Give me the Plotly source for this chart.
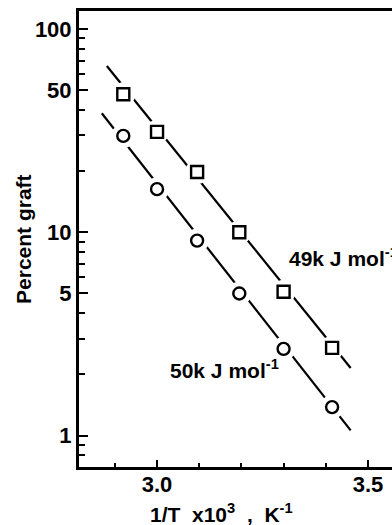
import numpy as np
import plotly.graph_objects as go

# data (1/T x10^3, percent graft)
sq_x = [2.92, 3.00, 3.095, 3.195, 3.30, 3.415]
sq_y = [47.8, 31.2, 19.8, 10.0, 5.1, 2.7]
ci_x = [2.92, 3.00, 3.095, 3.195, 3.30, 3.415]
ci_y = [29.8, 16.3, 9.1, 5.0, 2.67, 1.38]

# fitted lines (end points)
fit_sq_x = [2.881, 3.459]
fit_sq_y = [65.8, 2.15]
fit_ci_x = [2.869, 3.459]
fit_ci_y = [38.5, 1.06]

y_major = [1, 5, 10, 50, 100]
y_minor = [0.7, 0.8, 0.9, 2, 3, 4, 6, 7, 8, 9, 20, 30, 40, 60, 70, 80, 90]
x_major = [3.0, 3.5]
x_minor = [2.9, 3.1, 3.2, 3.3, 3.4]

label_sq = "49k J mol<sup>-1</sup>"
label_ci = "50k J mol<sup>-1</sup>"
x_title = "1/T&nbsp; x10<sup>3</sup>&nbsp; , &nbsp;K<sup>-1</sup>"
y_title = "Percent graft"

FONT = "Liberation Sans, Arial, sans-serif"
W = "bold"

fig = go.Figure()
for fx, fy in [(fit_sq_x, fit_sq_y), (fit_ci_x, fit_ci_y)]:
    fig.add_trace(go.Scatter(x=fx, y=fy, mode="lines",
                             line=dict(color="black", width=2.2), hoverinfo="skip"))
# white halos to break the lines around the markers
for xs, ys in [(sq_x, sq_y), (ci_x, ci_y)]:
    fig.add_trace(go.Scatter(x=xs, y=ys, mode="markers",
                             marker=dict(symbol="circle", size=24, color="white",
                                         line=dict(width=0)), hoverinfo="skip"))
fig.add_trace(go.Scatter(x=sq_x, y=sq_y, mode="markers",
                         marker=dict(symbol="square", size=12, color="white",
                                     line=dict(color="black", width=2.4))))
fig.add_trace(go.Scatter(x=ci_x, y=ci_y, mode="markers",
                         marker=dict(symbol="circle", size=12, color="white",
                                     line=dict(color="black", width=2.4))))

fig.add_annotation(x=3.308, y=np.log10(7.55), text=label_sq, showarrow=False,
                   xanchor="left", yanchor="middle",
                   font=dict(size=21, color="black", family=FONT, weight=W))
fig.add_annotation(x=3.026, y=np.log10(2.12), text=label_ci, showarrow=False,
                   xanchor="left", yanchor="middle",
                   font=dict(size=21, color="black", family=FONT, weight=W))
fig.add_annotation(xref="paper", yref="paper", x=0.455, y=-0.10,
                   text=x_title, showarrow=False,
                   xanchor="center", yanchor="middle",
                   font=dict(size=21, color="black", family=FONT, weight=W))
fig.add_annotation(xref="paper", yref="paper", x=-0.179, y=0.5, textangle=-90,
                   text=y_title, showarrow=False,
                   xanchor="center", yanchor="middle",
                   font=dict(size=21, color="black", family=FONT, weight=W))

fig.update_layout(
    width=392, height=525,
    margin=dict(l=79, r=0, t=11, b=58),
    paper_bgcolor="white", plot_bgcolor="white",
    showlegend=False,
    font=dict(family=FONT, size=21, color="black", weight=W),
)
fig.update_xaxes(range=[2.815, 3.557], showgrid=False, zeroline=False,
                 showline=True, linecolor="black", linewidth=3, mirror=True,
                 tickmode="array", tickvals=x_major, ticktext=["3.0", "3.5"],
                 ticks="inside", ticklen=7, tickwidth=2, tickcolor="black",
                 ticklabelstandoff=-4,
                 minor=dict(tickmode="array", tickvals=x_minor, ticks="inside",
                            ticklen=4, tickwidth=2, tickcolor="black"),
                 tickfont=dict(size=22, family=FONT, color="black", weight=W))
fig.update_yaxes(type="log", range=[np.log10(0.70), np.log10(122.7)],
                 showgrid=False, zeroline=False,
                 showline=True, linecolor="black", linewidth=3,
                 tickmode="array", tickvals=y_major, ticktext=["1", "5", "10", "50", "100"],
                 ticks="inside", ticklen=9, tickwidth=2, tickcolor="black",
                 minor=dict(tickmode="array", tickvals=y_minor, ticks="inside",
                            ticklen=6, tickwidth=2, tickcolor="black"),
                 tickfont=dict(size=22, family=FONT, color="black", weight=W))

fig.write_html("out.html", config={"displayModeBar": False},
               post_script="document.body.style.margin='0';")
